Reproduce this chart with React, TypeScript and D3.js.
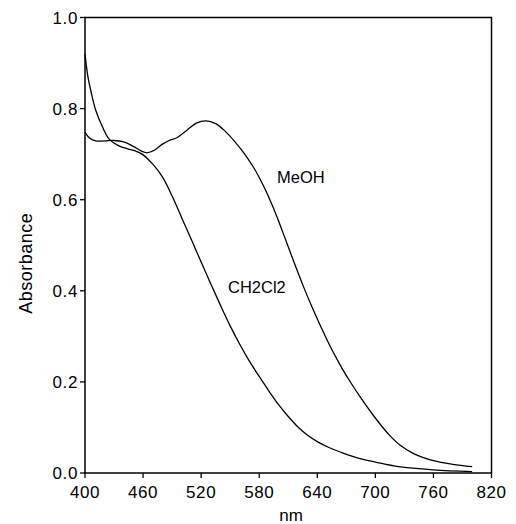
import React from "react";
import * as d3 from "d3";

const xTicks = [400, 460, 520, 580, 640, 700, 760, 820];
const yTicks = [0.0, 0.2, 0.4, 0.6, 0.8, 1.0];

const meohNm = [400, 405, 411, 420, 430, 440, 450, 458, 464, 472, 480, 487, 495, 505, 515, 525, 535, 545, 555, 565, 575, 585, 595, 605, 615, 625, 635, 645, 655, 665, 675, 685, 695, 705, 715, 725, 740, 760, 780, 800];
const meohAbs = [0.748, 0.735, 0.729, 0.729, 0.730, 0.727, 0.717, 0.707, 0.703, 0.709, 0.722, 0.730, 0.736, 0.752, 0.768, 0.773, 0.767, 0.750, 0.727, 0.700, 0.668, 0.628, 0.580, 0.525, 0.468, 0.413, 0.362, 0.315, 0.271, 0.232, 0.197, 0.165, 0.135, 0.107, 0.082, 0.062, 0.042, 0.027, 0.019, 0.014];

const dcmNm = [400, 403, 407, 411, 418, 425, 435, 445, 452, 459, 470, 480, 490, 500, 510, 520, 530, 540, 550, 560, 570, 580, 590, 600, 610, 620, 630, 640, 652, 665, 683, 700, 724, 760, 800];
const dcmAbs = [0.92, 0.87, 0.83, 0.797, 0.76, 0.733, 0.718, 0.711, 0.707, 0.700, 0.678, 0.650, 0.608, 0.560, 0.512, 0.463, 0.415, 0.368, 0.323, 0.282, 0.245, 0.212, 0.180, 0.150, 0.124, 0.101, 0.083, 0.069, 0.056, 0.045, 0.032, 0.024, 0.014, 0.007, 0.003];

const W = 516;
const H = 524;
const left = 85;
const right = 491.5;
const top = 17.5;
const bottom = 473;

export default function App() {
  const x = d3.scaleLinear().domain([400, 820]).range([left, right]);
  const y = d3.scaleLinear().domain([0, 1]).range([bottom, top]);
  const line = d3
    .line<[number, number]>()
    .x((d) => x(d[0]))
    .y((d) => y(d[1]))
    .curve(d3.curveCatmullRom.alpha(0.5));
  const meoh = meohNm.map((n, i) => [n, meohAbs[i]] as [number, number]);
  const dcm = dcmNm.map((n, i) => [n, dcmAbs[i]] as [number, number]);
  const font = "'Liberation Sans', Arial, Helvetica, sans-serif";
  return (
    <svg
      width={W}
      height={H}
      style={{ position: "absolute", left: 0, top: 0, background: "#fff" }}
      fontFamily={font}
    >
      <rect x={left} y={top} width={right - left} height={bottom - top} fill="none" stroke="#000" strokeWidth={1.5} />
      {xTicks.map((t) => (
        <g key={"x" + t}>
          <line x1={x(t)} x2={x(t)} y1={bottom} y2={bottom + 5} stroke="#000" strokeWidth={1.3} />
          <text x={x(t)} y={498} textAnchor="middle" fontSize={17} letterSpacing={0.6} fill="#000">
            {t}
          </text>
        </g>
      ))}
      {yTicks.map((t) => (
        <g key={"y" + t}>
          <line x1={left - 5} x2={left} y1={y(t)} y2={y(t)} stroke="#000" strokeWidth={1.3} />
          <text x={left - 7} y={y(t) + 6} textAnchor="end" fontSize={17} letterSpacing={0.6} fill="#000">
            {t.toFixed(1)}
          </text>
        </g>
      ))}
      <path d={line(meoh) || ""} fill="none" stroke="#000" strokeWidth={1.3} />
      <path d={line(dcm) || ""} fill="none" stroke="#000" strokeWidth={1.3} />
      <text x={277} y={183} fontSize={16.5} fill="#000">MeOH</text>
      <text x={228} y={293} fontSize={16.5} fill="#000">CH2Cl2</text>
      <text
        transform={`translate(32, ${(top + bottom) / 2 + 18}) rotate(-90)`}
        textAnchor="middle"
        fontSize={18}
        letterSpacing={0.5}
        fill="#000"
      >
        Absorbance
      </text>
      <text x={291} y={521} textAnchor="middle" fontSize={17} fill="#000">nm</text>
    </svg>
  );
}
